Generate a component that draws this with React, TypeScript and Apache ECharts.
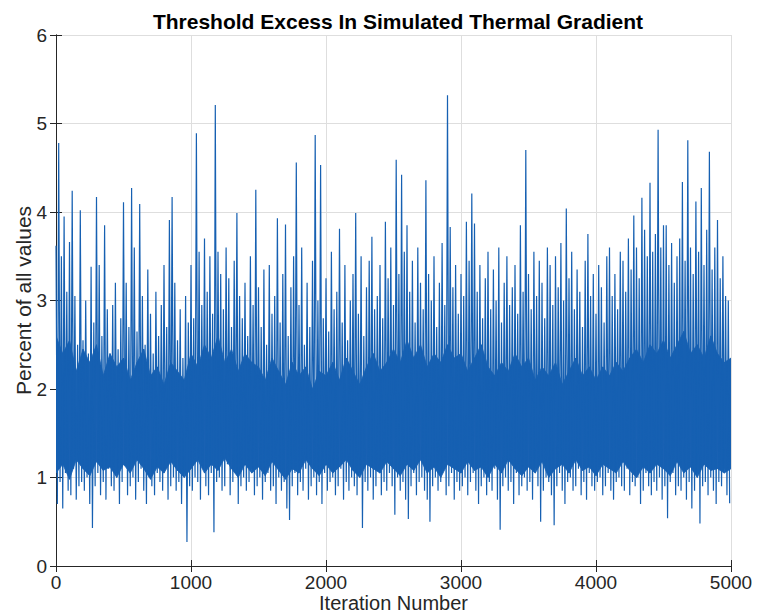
import React, { useEffect, useRef } from "react";
import * as echarts from "echarts";

const TITLE = "Threshold Excess In Simulated Thermal Gradient";
const X_NAME = "Iteration Number";
const Y_NAME = "Percent of all values";
const X_TICKS = [0, 1000, 2000, 3000, 4000, 5000];
const Y_TICKS = [0, 1, 2, 3, 4, 5, 6];

// local maxima, one per 20 iterations (iteration = 20 * index)
const highs = [
  3.62, 4.78, 3.5, 3.95, 3.1, 3.66, 4.24, 3.05, 2.5, 4.02,
  2.55, 3.0, 2.4, 3.38, 2.75, 4.17, 3.4, 2.6, 3.85, 2.9,
  2.3, 2.95, 3.2, 2.45, 2.8, 4.11, 3.2, 2.7, 4.27, 3.6,
  2.65, 4.09, 3.05, 2.5, 3.35, 2.85, 2.4, 3.1, 2.6, 2.95,
  3.4, 2.7, 3.91, 4.17, 3.2, 2.55, 2.9, 2.35, 3.05, 2.75,
  3.4, 2.8, 4.89, 3.55, 2.95, 3.7, 3.1, 3.5, 2.85, 5.21,
  3.55, 3.3, 2.9, 3.6, 3.25, 2.7, 3.45, 3.99, 3.05, 2.8,
  3.2, 2.6, 3.5, 2.95, 4.25, 3.15, 2.7, 3.35, 2.5, 3.4,
  2.85, 3.05, 3.93, 2.75, 3.3, 3.86, 2.6, 3.15, 3.5, 4.56,
  2.95, 3.6, 2.5, 3.2, 2.7, 3.45, 4.87, 3.0, 4.53, 2.8,
  3.25, 2.65, 3.55, 2.9, 3.1, 3.81, 2.75, 3.4, 2.55, 3.0,
  3.3, 3.99, 2.85, 3.5, 2.6, 3.15, 3.45, 3.72, 2.9, 3.05,
  3.4, 2.8, 3.89, 3.25, 3.6, 2.95, 4.59, 3.3, 4.42, 3.55,
  3.85, 3.1, 3.45, 2.75, 3.6, 3.2, 2.9, 4.36, 3.3, 3.0,
  3.5, 2.7, 3.2, 3.65, 2.95, 5.32, 3.83, 3.15, 3.4, 2.85,
  3.3, 3.05, 3.89, 3.45, 4.21, 3.87, 3.1, 3.4, 2.8, 3.25,
  3.55, 2.9, 3.35, 3.0, 3.6, 2.75, 3.2, 3.5, 2.95, 3.15,
  3.4, 2.85, 3.85, 3.1, 4.7, 3.3, 2.9, 3.55, 3.05, 3.45,
  3.2, 2.8, 3.6, 3.4, 2.95, 3.5, 3.15, 3.65, 3.0, 4.04,
  3.25, 3.55, 2.9, 3.35, 3.1, 2.7, 3.45, 3.75, 3.05, 3.3,
  2.85, 3.4, 3.15, 2.75, 3.5, 3.6, 3.05, 3.3, 2.9, 3.55,
  3.45, 3.1, 3.7, 3.35, 3.96, 3.6, 3.25, 4.16, 3.8, 3.5,
  4.33, 3.55, 3.75, 4.93, 3.6, 3.85, 3.85, 3.4, 3.65, 3.2,
  3.5, 3.7, 4.34, 3.45, 4.81, 3.6, 3.3, 4.12, 3.55, 4.27,
  3.4, 3.8, 4.68, 3.35, 3.6, 3.91, 3.25, 3.5, 3.05, 3.0,
];

// local minima, one per 20 iterations (iteration = 20 * index + 10)
const lows = [
  0.7, 0.95, 0.65, 1.05, 0.85, 0.8, 1.1, 0.75, 0.9, 0.95,
  0.85, 1.0, 0.7, 0.43, 0.9, 1.05, 0.8, 0.95, 0.75, 1.1,
  0.9, 0.85, 1.05, 0.7, 0.95, 1.15, 0.8, 0.9, 1.0, 0.75,
  0.95, 1.1, 0.85, 0.7, 1.0, 0.9, 0.8, 1.05, 0.95, 0.85,
  1.1, 0.75, 0.9, 1.0, 0.85, 0.95, 0.7, 1.05, 0.27, 0.9,
  0.85, 1.0, 0.95, 0.75, 1.1, 0.9, 0.8, 1.05, 0.38, 0.95,
  1.0, 0.85, 0.9, 1.15, 0.8, 0.95, 1.05, 0.7, 0.9, 1.0,
  0.85, 0.95, 1.1, 0.8, 0.9, 1.0, 0.75, 0.95, 1.05, 0.85,
  0.9, 0.7, 1.0, 0.85, 0.95, 0.65, 0.52, 0.9, 1.05, 0.8,
  0.95, 0.85, 1.1, 0.75, 0.9, 1.0, 0.8, 0.95, 0.7, 1.05,
  0.85, 0.95, 1.0, 0.8, 0.9, 1.1, 0.75, 0.95, 0.85, 1.0,
  0.9, 0.8, 1.05, 0.43, 0.95, 0.85, 1.0, 0.75, 0.9, 1.1,
  0.8, 0.95, 0.85, 1.05, 0.9, 0.58, 1.0, 0.85, 0.95, 0.75,
  0.53, 0.9, 1.05, 0.8, 0.95, 1.0, 0.85, 0.75, 0.5, 0.9,
  1.0, 0.85, 0.95, 1.1, 0.8, 0.9, 1.05, 0.75, 0.95, 0.85,
  0.9, 1.0, 0.8, 0.95, 1.05, 0.85, 0.7, 0.9, 1.0, 0.8,
  0.95, 0.85, 1.1, 0.75, 0.41, 0.9, 1.0, 0.85, 0.95, 0.7,
  1.05, 0.8, 0.9, 1.0, 0.85, 0.95, 0.75, 1.1, 0.9, 0.5,
  0.85, 1.0, 0.95, 0.8, 0.46, 0.9, 1.05, 0.85, 0.7, 0.95,
  1.0, 0.85, 0.9, 1.1, 0.8, 0.95, 0.75, 1.05, 0.9, 0.85,
  0.95, 1.0, 0.8, 0.9, 1.05, 0.85, 0.75, 0.95, 1.0, 0.9,
  0.85, 1.1, 0.8, 0.95, 0.9, 1.0, 0.7, 0.85, 1.05, 0.9,
  0.8, 0.95, 0.85, 1.0, 0.75, 0.9, 0.54, 0.95, 1.05, 0.8,
  0.9, 0.85, 1.0, 0.75, 0.95, 0.65, 0.85, 1.05, 0.48, 0.9,
  0.95, 0.8, 1.0, 0.85, 0.7, 0.95, 0.9, 1.1, 0.8, 0.71,
];

// dense core of the trace (solid band), every 50 iterations
const coreTop = [
  2.6, 2.4, 2.55, 2.2, 2.45, 2.3, 2.5, 2.15, 2.4, 2.25,
  2.35, 2.1, 2.3, 2.45, 2.15, 2.25, 2.05, 2.3, 2.2, 2.1,
  2.4, 2.25, 2.5, 2.35, 2.6, 2.3, 2.45, 2.2, 2.4, 2.3,
  2.25, 2.1, 2.35, 2.2, 2.05, 2.3, 2.15, 2.25, 2.0, 2.2,
  2.15, 2.3, 2.1, 2.35, 2.2, 2.05, 2.25, 2.4, 2.2, 2.3,
  2.45, 2.3, 2.55, 2.35, 2.5, 2.25, 2.4, 2.3, 2.5, 2.35,
  2.4, 2.2, 2.35, 2.5, 2.25, 2.15, 2.3, 2.2, 2.4, 2.25,
  2.35, 2.1, 2.25, 2.15, 2.3, 2.05, 2.2, 2.35, 2.15, 2.25,
  2.1, 2.25, 2.15, 2.3, 2.2, 2.35, 2.45, 2.3, 2.5, 2.4,
  2.55, 2.35, 2.5, 2.65, 2.4, 2.5, 2.35, 2.6, 2.4, 2.3,
  2.35,
];
const coreBottom = [
  1.05, 1.15, 0.98, 1.2, 1.1, 1.02, 1.18, 1.08, 1.12, 1.0,
  1.15, 1.05, 1.2, 1.1, 0.98, 1.12, 1.05, 1.18, 1.08, 1.0,
  1.1, 1.2, 1.05, 1.15, 1.08, 1.22, 1.1, 1.0, 1.15, 1.05,
  1.12, 1.02, 1.18, 1.08, 0.98, 1.1, 1.05, 1.2, 1.1, 1.02,
  1.15, 1.05, 1.12, 1.2, 1.08, 1.0, 1.15, 1.1, 1.05, 1.18,
  1.1, 1.02, 1.15, 1.08, 1.2, 1.05, 1.12, 1.0, 1.15, 1.1,
  1.05, 1.18, 1.08, 1.12, 1.0, 1.15, 1.05, 1.2, 1.1, 1.02,
  1.12, 1.05, 1.18, 1.0, 1.1, 1.15, 1.05, 1.2, 1.08, 1.12,
  1.02, 1.15, 1.1, 1.05, 1.18, 1.08, 1.0, 1.12, 1.05, 1.15,
  1.1, 1.02, 1.18, 1.05, 1.12, 1.0, 1.15, 1.08, 1.1, 1.05,
  1.1,
];

const STEP = 20;
const CORE_STEP = 50;
const BLUE = "#1660b2";

export default function App() {
  const ref = useRef<HTMLDivElement>(null);

  useEffect(() => {
    if (!ref.current) return;
    const chart = echarts.init(ref.current, null, { renderer: "svg" });

    const points: [number, number][] = [];
    for (let i = 0; i < highs.length; i++) {
      points.push([i * STEP, highs[i]]);
      points.push([i * STEP + STEP / 2, lows[i]]);
    }
    const bandData = coreTop.slice(0, -1).map((_, i) => [i * CORE_STEP, coreBottom[i], coreTop[i]]);

    const font = "Helvetica, 'Liberation Sans', Arial, sans-serif";
    const dark = "#262626";
    const xMin = X_TICKS[0];
    const xMax = X_TICKS[X_TICKS.length - 1];
    const xInt = X_TICKS[1] - X_TICKS[0];
    const yMin = Y_TICKS[0];
    const yMax = Y_TICKS[Y_TICKS.length - 1];
    const yInt = Y_TICKS[1] - Y_TICKS[0];

    const frameAxis = {
      axisLine: { show: true, lineStyle: { color: dark, width: 1 } },
      axisTick: { show: true, inside: true, length: 6, lineStyle: { color: dark } },
      axisLabel: { show: false },
      splitLine: { show: false },
    };

    chart.setOption({
      animation: false,
      backgroundColor: "#ffffff",
      title: {
        text: TITLE,
        left: 393,
        top: 6,
        textAlign: "center",
        textStyle: { fontFamily: font, fontWeight: "bold", fontSize: 21, color: "#000" },
      },
      grid: { left: 56, right: 26, top: 35, bottom: 50, containLabel: false, outerBoundsMode: "none" },
      xAxis: [
        {
          type: "value",
          min: xMin,
          max: xMax,
          interval: xInt,
          position: "bottom",
          name: X_NAME,
          nameLocation: "middle",
          nameGap: 27,
          nameMoveOverlap: false,
          nameTextStyle: { fontFamily: font, fontSize: 20, color: dark },
          axisLine: { show: true, lineStyle: { color: dark, width: 1 } },
          axisTick: { show: true, inside: true, length: 6, lineStyle: { color: dark } },
          axisLabel: { fontFamily: font, fontSize: 19, color: dark, margin: 7, formatter: (v: number) => String(v) },
          splitLine: { show: true, lineStyle: { color: "#dedede", width: 1 } },
        },
        { type: "value", min: xMin, max: xMax, interval: xInt, position: "top", ...frameAxis },
      ],
      yAxis: [
        {
          type: "value",
          min: yMin,
          max: yMax,
          interval: yInt,
          position: "left",
          name: Y_NAME,
          nameLocation: "middle",
          nameGap: 22,
          nameMoveOverlap: false,
          nameTextStyle: { fontFamily: font, fontSize: 21, color: dark },
          axisLine: { show: true, lineStyle: { color: dark, width: 1 } },
          axisTick: { show: true, inside: true, length: 6, lineStyle: { color: dark } },
          axisLabel: { fontFamily: font, fontSize: 19, color: dark, margin: 9, formatter: (v: number) => String(v) },
          splitLine: { show: true, lineStyle: { color: "#dedede", width: 1 } },
        },
        { type: "value", min: yMin, max: yMax, interval: yInt, position: "right", ...frameAxis },
      ],
      series: [
        {
          type: "custom",
          data: bandData,
          encode: { x: 0, y: [1, 2] },
          clip: true,
          z: 1,
          renderItem: (params: any, api: any) => {
            const i = params.dataIndex;
            const x0 = i * CORE_STEP;
            const x1 = (i + 1) * CORE_STEP;
            const pts = [
              api.coord([x0, coreTop[i]]),
              api.coord([x1, coreTop[i + 1]]),
              api.coord([x1, coreBottom[i + 1]]),
              api.coord([x0, coreBottom[i]]),
            ];
            return {
              type: "polygon",
              shape: { points: pts },
              style: { fill: BLUE, stroke: BLUE, lineWidth: 0.8 },
            };
          },
        },
        {
          type: "line",
          data: points,
          showSymbol: false,
          symbol: "none",
          lineStyle: { color: BLUE, width: 1.2 },
          z: 2,
        },
      ],
    });

    return () => chart.dispose();
  }, []);

  return (
    <div
      ref={ref}
      style={{ position: "fixed", left: 0, top: 0, width: 757, height: 616, background: "#fff" }}
    />
  );
}
